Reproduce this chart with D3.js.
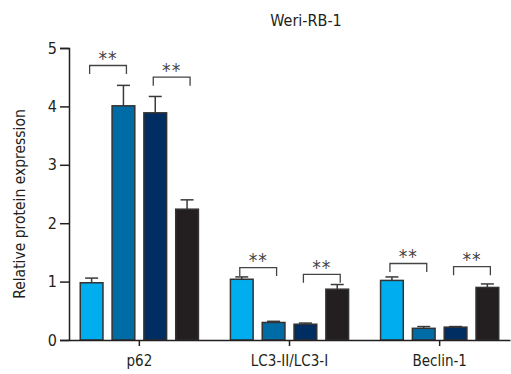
<!DOCTYPE html>
<html>
<head>
<meta charset="utf-8">
<script src="https://cdn.jsdelivr.net/npm/d3@7"></script>
<style>
  body { margin: 0; background: #fff; }
  text { font-family: "Liberation Sans Narrow", "DejaVu Sans Condensed", sans-serif; fill: #231f20; }
</style>
</head>
<body>
<div id="chart"></div>
<script>
// 图表尺寸
const width = 511;
const height = 374;
const margin = { top: 48, right: 1, bottom: 34, left: 69 };

// 数据
const categories = ["p62", "LC3-II/LC3-I", "Beclin-1"];
const series = ["s1", "s2", "s3", "s4"];
const colors = ["#00aeef", "#006ca6", "#002d62", "#231f20"];
const means = [
    [0.98, 4.01, 3.89, 2.24],
    [1.04, 0.30, 0.27, 0.87],
    [1.02, 0.20, 0.22, 0.90]
];
const errTops = [
    [1.06, 4.36, 4.17, 2.40],
    [1.08, 0.32, 0.29, 0.95],
    [1.08, 0.23, 0.23, 0.96]
];
// 显著性标记：组、左柱、右柱、括号顶部值
const brackets = [
    [0, 0, 1, 4.70], [0, 2, 3, 4.50],
    [1, 0, 1, 1.24], [1, 2, 3, 1.125],
    [2, 0, 1, 1.31], [2, 2, 3, 1.255]
];
const yTicks = [0, 1, 2, 3, 4, 5];

const svg = d3.select("#chart").append("svg")
    .attr("width", width)
    .attr("height", height);

const x0 = d3.scaleBand()
    .domain(categories)
    .range([margin.left, width - margin.right])
    .paddingInner(0.213)
    .paddingOuter(0.075);

const x1 = d3.scaleBand()
    .domain(series)
    .range([0, x0.bandwidth()])
    .paddingInner(0.286);

const y = d3.scaleLinear()
    .domain([0, 5])
    .range([height - margin.bottom, margin.top]);

// 柱子
categories.forEach((cat, gi) => {
    const g = svg.append("g").attr("transform", `translate(${x0(cat)},0)`);
    series.forEach((s, si) => {
        const cx = x1(s) + x1.bandwidth() / 2;
        // 误差线
        g.append("line")
            .attr("x1", cx).attr("x2", cx)
            .attr("y1", y(means[gi][si])).attr("y2", y(errTops[gi][si]))
            .attr("stroke", "#3a3a3a").attr("stroke-width", 1.5);
        g.append("line")
            .attr("x1", cx - 6.5).attr("x2", cx + 6.5)
            .attr("y1", y(errTops[gi][si])).attr("y2", y(errTops[gi][si]))
            .attr("stroke", "#3a3a3a").attr("stroke-width", 1.5);
        g.append("rect")
            .attr("x", x1(s))
            .attr("y", y(means[gi][si]))
            .attr("width", x1.bandwidth())
            .attr("height", y(0) - y(means[gi][si]))
            .attr("fill", colors[si])
            .attr("stroke", "#333")
            .attr("stroke-width", 1.5);
    });
});

// 显著性括号
brackets.forEach(([gi, a, b, v]) => {
    const xa = x0(categories[gi]) + x1(series[a]) + x1.bandwidth() / 2 - 2;
    const xb = x0(categories[gi]) + x1(series[b]) + x1.bandwidth() / 2 + 3;
    const yt = y(v);
    svg.append("path")
        .attr("d", `M${xa},${yt + 8.5}V${yt}H${xb}V${yt + 8.5}`)
        .attr("fill", "none")
        .attr("stroke", "#444")
        .attr("stroke-width", 1.3);
    svg.append("text")
        .attr("x", (xa + xb) / 2)
        .attr("y", yt - 0.5)
        .attr("text-anchor", "middle")
        .style("font-size", "19px")
        .style("letter-spacing", "1px")
        .style("fill", "#444")
        .text("**");
});

// y 轴
const yAxis = svg.append("g")
    .attr("transform", `translate(${margin.left},0)`)
    .call(d3.axisLeft(y).tickValues(yTicks).tickFormat(d3.format("d")).tickSize(9).tickPadding(3));
yAxis.selectAll("text").style("font-size", "16px");

// x 轴
const xAxis = svg.append("g")
    .attr("transform", `translate(0,${height - margin.bottom})`)
    .call(d3.axisBottom(x0).tickSize(6).tickPadding(9).tickSizeOuter(0));
xAxis.selectAll("text").style("font-size", "15px");

svg.selectAll(".domain, .tick line").attr("stroke", "#231f20").attr("stroke-width", 1.5);
svg.selectAll(".tick text").attr("fill", "#231f20");

// 标题
svg.append("text")
    .attr("x", 306)
    .attr("y", 26)
    .attr("text-anchor", "middle")
    .style("font-size", "16px")
    .text("Weri-RB-1");

// y 轴标题
svg.append("text")
    .attr("transform", "translate(25,204) rotate(-90)")
    .attr("text-anchor", "middle")
    .style("font-size", "15.5px")
    .text("Relative protein expression");
</script>
</body>
</html>
